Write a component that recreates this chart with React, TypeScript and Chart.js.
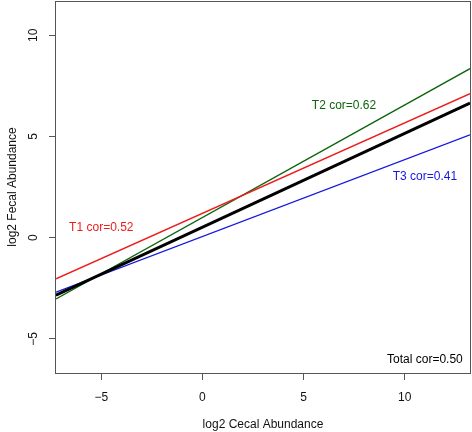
import React, { useEffect, useRef } from "react";
import { Chart, registerables } from "chart.js";

Chart.register(...registerables);

// ---- data ----
const xLimits = [-7.24, 13.23];
const yLimits = [-6.68, 11.69];
const xTickValues = [-5, 0, 5, 10];
const yTickValues = [-5, 0, 5, 10];

const seriesNames = ["Total", "T1", "T2", "T3"];
const totalFit = [-2.84, 6.65];
const t1Fit = [-2.03, 7.11];
const t2Fit = [-3.02, 8.35];
const t3Fit = [-2.69, 5.08];

const noteTexts = ["T1 cor=0.52", "T2 cor=0.62", "T3 cor=0.41", "Total cor=0.50"];
const noteX = [-5, 7, 11, 11];
const noteY = [0.5, 6.5, 3, -6];

// ---- styles ----
const FONT = "'Liberation Sans', Arial, Helvetica, sans-serif";
const seriesColors = ["#000000", "#ee1c1c", "#0c640c", "#1616e0"];
const seriesWidths = [3, 1.5, 1.3, 1.4];
const noteColors = ["#ee1c1c", "#0c640c", "#1616e0", "#000000"];
const AXIS_COLOR = "#555555";

const fmt = (v: number | string) => String(v).replace("-", "\u2212");

const boxPlugin = {
  id: "boxPlugin",
  afterDatasetsDraw(chart: any) {
    const { ctx, chartArea, scales } = chart;
    ctx.save();
    // annotations
    ctx.font = `12px ${FONT}`;
    ctx.textAlign = "center";
    ctx.textBaseline = "middle";
    noteTexts.forEach((t, i) => {
      ctx.fillStyle = noteColors[i];
      ctx.fillText(t, scales.x.getPixelForValue(noteX[i]), scales.y.getPixelForValue(noteY[i]));
    });
    // box
    ctx.strokeStyle = AXIS_COLOR;
    ctx.lineWidth = 1;
    const l = Math.round(chartArea.left) - 0.5;
    const r = Math.round(chartArea.right) + 0.5;
    const t = Math.round(chartArea.top) + 0.5;
    const b = Math.round(chartArea.bottom) + 0.5;
    ctx.strokeRect(l, t, r - l, b - t);
    ctx.restore();
  },
};

export default function App() {
  const canvasRef = useRef<HTMLCanvasElement | null>(null);

  useEffect(() => {
    document.body.style.margin = "0";
    const fits = [totalFit, t1Fit, t2Fit, t3Fit];
    const datasets = fits.map((f, i) => ({
      label: seriesNames[i],
      data: [
        { x: xLimits[0], y: f[0] },
        { x: xLimits[1], y: f[1] },
      ],
      borderColor: seriesColors[i],
      backgroundColor: seriesColors[i],
      borderWidth: seriesWidths[i],
      pointRadius: 0,
      fill: false,
      tension: 0,
    }));

    const chart = new Chart(canvasRef.current as HTMLCanvasElement, {
      type: "line",
      data: { datasets },
      options: {
        animation: false,
        responsive: true,
        maintainAspectRatio: false,
        layout: { padding: { top: 1, right: 2, left: 0, bottom: 0 } },
        plugins: { legend: { display: false }, tooltip: { enabled: false } },
        scales: {
          x: {
            type: "linear",
            min: xLimits[0],
            max: xLimits[1],
            afterBuildTicks: (s: any) => {
              s.ticks = xTickValues.map((v) => ({ value: v }));
            },
            afterFit: (s: any) => {
              s.height = 59;
              s.paddingLeft = 0;
              s.paddingRight = 0;
            },
            border: { display: false },
            grid: {
              drawOnChartArea: false,
              drawTicks: true,
              tickLength: 7,
              tickColor: AXIS_COLOR,
              lineWidth: 1,
            },
            ticks: {
              padding: 10,
              autoSkip: false,
              maxRotation: 0,
              minRotation: 0,
              color: "#111",
              font: { family: FONT, size: 12 },
              callback: (v: any) => fmt(v),
            },
            title: {
              display: true,
              text: "log2 Cecal Abundance",
              color: "#111",
              font: { family: FONT, size: 12 },
              padding: { top: 0, bottom: 0.5 },
            },
          },
          y: {
            type: "linear",
            min: yLimits[0],
            max: yLimits[1],
            afterBuildTicks: (s: any) => {
              s.ticks = yTickValues.map((v) => ({ value: v }));
            },
            afterFit: (s: any) => {
              s.width = 56;
              s.paddingTop = 0;
              s.paddingBottom = 0;
            },
            border: { display: false },
            grid: {
              drawOnChartArea: false,
              drawTicks: true,
              tickLength: 7,
              tickColor: AXIS_COLOR,
              lineWidth: 1,
            },
            ticks: {
              padding: 8,
              autoSkip: false,
              minRotation: 90,
              maxRotation: 90,
              crossAlign: "center",
              color: "#111",
              font: { family: FONT, size: 12 },
              callback: (v: any) => fmt(v),
            },
            title: {
              display: true,
              text: "log2 Fecal Abundance",
              color: "#111",
              font: { family: FONT, size: 12 },
              padding: { top: 5, bottom: 0 },
            },
          },
        },
      },
      plugins: [boxPlugin],
    } as any);

    return () => chart.destroy();
  }, []);

  return (
    <div style={{ width: 472, height: 432, position: "relative", background: "#fff" }}>
      <canvas ref={canvasRef} />
    </div>
  );
}
